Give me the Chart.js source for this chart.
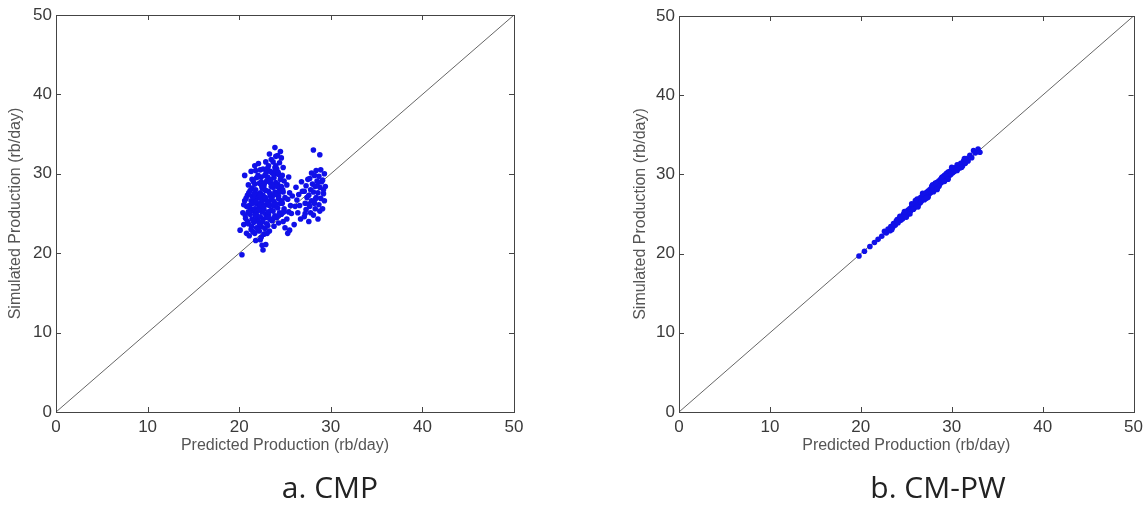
<!DOCTYPE html>
<html lang="en">
<head>
  <meta charset="UTF-8" />
  <title>CMP vs CM-PW</title>
  <script src="https://cdn.jsdelivr.net/npm/chart.js"></script>
  <style>
    body {
      margin: 0;
      background: #fff;
      width: 1148px;
      height: 508px;
      position: relative;
      overflow: hidden;
    }
    canvas {
      position: absolute;
      top: 0;
    }
    #chartA { left: 0; }
    #chartB { left: 625px; }
    .caption {
      position: absolute;
      top: 469px;
      font-family: 'Open Sans', sans-serif;
      font-size: 30px;
      line-height: 36px;
      color: #222;
      transform: translateX(-50%);
      white-space: nowrap;
    }
  </style>
</head>
<body>
  <canvas id="chartA" width="620" height="470"></canvas>
  <canvas id="chartB" width="523" height="470"></canvas>
  <div class="caption" style="left:330px">a. CMP</div>
  <div class="caption" style="left:938px">b. CM-PW</div>

<script>
    // axis ticks
    const tickValues = [0, 10, 20, 30, 40, 50];
    const diagonal = [0, 50];

    // a. CMP  (predicted vs simulated, rb/day)
    const cmpPredicted = [
      20.3, 20.1, 20.5, 20.7, 20.4, 20.8, 20.6, 20.9, 20.6, 20.8, 20.5, 20.9,
      21.1, 21.3, 21.0, 21.4, 21.2, 21.5, 21.1, 21.3, 21.4, 21.2, 21.0, 21.4, 21.3, 21.5, 21.2, 21.0, 21.4,
      21.8, 21.7, 21.9, 21.6, 22.0, 21.8, 21.7, 21.9, 21.6, 22.0, 21.8, 21.7, 21.9, 21.8, 22.0, 21.6, 21.9, 21.7,
      22.3, 22.5, 22.4, 22.2, 22.4, 22.1, 22.3, 22.5, 22.2, 22.4, 22.1, 22.3, 22.5, 22.2, 22.4, 22.3, 22.1, 22.5, 22.2, 22.4,
      22.6, 22.9, 22.7, 22.8, 23.0, 22.6, 22.9, 22.7, 23.0, 22.8, 22.6, 22.9, 22.7, 23.0, 22.8, 22.6, 22.9, 22.7, 22.8, 23.0,
      23.3, 23.1, 23.4, 23.2, 23.5, 23.3, 23.1, 23.4, 23.2, 23.5, 23.3, 23.1, 23.4, 23.2, 23.5, 23.3, 23.2, 23.4, 23.1,
      23.8, 23.6, 23.9, 23.7, 24.0, 23.8, 23.6, 23.9, 23.7, 24.0, 23.8, 23.6, 23.9, 23.7, 24.0, 23.9, 23.7, 23.8, 24.0,
      24.3, 24.1, 24.4, 24.2, 24.5, 24.3, 24.1, 24.4, 24.2, 24.5, 24.3, 24.1, 24.4, 24.2, 24.5, 24.3,
      24.8, 24.6, 24.9, 24.7, 25.0, 24.8, 24.6, 24.9, 24.7, 25.0, 24.8, 24.6,
      25.3, 25.5, 25.2, 25.4, 25.6, 25.3, 25.5, 25.2, 25.7, 25.8, 25.4,
      26.1, 26.3, 26.5, 26.2, 26.7, 26.6, 26.9, 26.4, 26.8, 26.0,
      27.1, 27.3, 27.2, 27.4, 27.1, 27.3, 27.5, 27.2,
      27.6, 27.8, 27.7, 27.9, 27.6, 27.8, 28.0, 27.7, 27.9, 27.6,
      28.1, 28.3, 28.2, 28.4, 28.1, 28.3, 28.5, 28.2, 28.4, 28.1, 28.3,
      28.6, 28.8, 28.7, 28.9, 28.6, 28.8, 29.0, 28.7, 28.9, 28.8, 28.6,
      29.1, 29.3, 29.2, 29.4, 29.1, 29.3, 29.2,
      21.35, 21.55, 21.75, 21.45, 21.65, 21.85, 21.55, 22.05, 22.15, 22.35,
      22.25, 22.45, 22.05, 22.55, 22.65, 22.85, 22.75, 22.95, 23.05, 23.15,
      23.25, 23.35, 23.45, 23.55, 23.65, 23.75, 23.85, 23.95, 24.05, 24.15,
      24.25, 24.35, 24.45, 24.55, 24.65, 24.75, 24.85, 20.65, 20.75, 21.05
    ];
    const cmpSimulated = [
      19.8, 22.9, 23.6, 24.4, 25.1, 25.9, 26.6, 27.3, 29.8, 22.5, 26.1, 24.0,
      22.2, 23.0, 23.7, 24.3, 24.9, 25.4, 26.0, 26.6, 27.2, 27.9, 28.6, 29.3, 30.3, 22.7, 25.7, 25.2, 28.2,
      21.6, 22.5, 23.2, 23.9, 24.4, 25.0, 25.6, 26.2, 26.8, 27.4, 28.0, 28.7, 29.5, 30.4, 25.3, 27.1, 24.7, 31.0,
      21.7, 21.0, 22.0, 22.8, 23.4, 24.0, 24.6, 25.2, 25.8, 26.4, 27.0, 27.6, 28.2, 28.8, 29.6, 30.5, 31.3, 26.9, 23.7, 29.0,
      20.4, 21.1, 22.4, 23.1, 23.7, 24.3, 24.9, 25.5, 26.1, 26.7, 27.3, 27.9, 28.5, 29.1, 29.8, 30.6, 31.5, 26.0, 28.0, 24.5,
      22.8, 23.5, 24.2, 24.8, 25.4, 26.0, 26.6, 27.2, 27.8, 28.4, 29.0, 29.6, 30.3, 31.0, 31.8, 32.5, 25.2, 28.9, 30.7,
      23.4, 24.1, 24.7, 25.3, 25.9, 26.5, 27.1, 27.7, 28.3, 28.9, 29.5, 30.1, 30.8, 31.5, 32.2, 33.3, 26.0, 29.9, 31.0,
      23.8, 24.5, 25.1, 25.7, 26.3, 26.9, 27.5, 28.1, 28.7, 29.3, 29.9, 30.6, 31.4, 32.3, 32.8, 27.2,
      24.0, 24.9, 25.6, 26.3, 27.0, 27.7, 28.4, 29.1, 29.8, 23.2, 30.8, 32.0,
      22.5, 22.9, 24.3, 25.2, 26.0, 26.8, 27.6, 28.6, 25.0, 27.2, 29.6,
      25.9, 26.7, 27.4, 28.3, 24.3, 26.0, 27.8, 25.1, 29.0, 23.6,
      24.6, 25.5, 26.3, 27.0, 27.8, 28.5, 29.3, 25.0,
      24.0, 25.1, 25.9, 26.6, 27.3, 28.0, 28.7, 29.4, 30.1, 26.2,
      24.8, 25.6, 26.3, 27.0, 27.7, 28.4, 29.1, 29.8, 30.4, 33.0, 26.8,
      24.3, 25.3, 26.1, 26.9, 27.6, 28.3, 29.0, 29.7, 30.5, 32.4, 28.9,
      25.6, 26.6, 27.5, 28.4, 29.2, 30.0, 28.0,
      23.4, 24.1, 24.8, 26.3, 27.5, 26.5, 29.0, 23.0, 25.5, 26.1,
      27.3, 28.5, 29.8, 24.0, 25.8, 27.0, 28.8, 30.2, 22.5, 24.5,
      26.3, 27.5, 29.3, 26.8, 28.6, 24.4, 27.4, 30.4, 26.2, 28.4,
      30.2, 24.8, 27.8, 29.6, 26.6, 28.0, 25.2, 24.8, 26.9, 27.6
    ];

    // b. CM-PW
    const pwPredicted = [
      19.8, 20.4, 21.0, 21.5, 21.9, 22.3, 22.6, 22.8, 23.0, 23.2, 23.3, 23.5, 23.6, 23.8, 23.9,
      24.1, 24.2, 24.4, 24.5, 24.6, 24.7, 24.9, 25.0, 25.1, 25.2, 25.3, 25.4, 25.5, 25.6, 25.7,
      25.8, 25.9, 26.0, 26.1, 26.2, 26.3, 26.4, 26.5, 26.6, 26.7, 26.8, 26.9, 27.0, 27.1, 27.2,
      27.3, 27.4, 27.5, 27.6, 27.7, 27.8, 27.9, 28.0, 28.1, 28.2, 28.3, 28.4, 28.5, 28.6, 28.7,
      28.8, 28.9, 29.0, 29.1, 29.2, 29.3, 29.4, 29.5, 29.6, 29.7, 29.8, 29.9, 30.0, 30.1, 30.2,
      30.3, 30.5, 30.6, 30.7, 30.9, 31.0, 31.2, 31.3, 31.5, 31.6, 31.8, 32.0, 32.2, 32.4, 32.6,
      32.9, 33.1, 24.0, 25.4, 26.2, 27.0, 27.8, 28.6, 29.4, 30.2, 25.8, 26.6, 28.0, 29.0, 30.4,
      23.4, 24.3, 25.0, 25.6, 26.3, 26.8, 27.4, 27.9, 28.4, 28.9, 29.6, 30.0, 30.6, 31.1, 31.4,
      24.8, 26.0, 27.2, 28.2, 29.2
    ];
    const pwSimulated = [
      19.7, 20.3, 20.9, 21.4, 21.8, 22.2, 22.8, 22.6, 23.1, 22.9, 23.4, 23.3, 23.8, 23.6, 24.1,
      23.9, 24.4, 24.2, 24.7, 24.4, 25.0, 24.7, 25.3, 24.9, 25.5, 25.2, 25.7, 25.4, 26.0, 25.6,
      26.2, 25.8, 26.4, 26.0, 26.6, 26.2, 26.9, 26.4, 27.1, 26.7, 27.3, 26.9, 27.5, 27.1, 27.7,
      27.3, 27.9, 27.5, 28.1, 27.7, 28.3, 27.9, 28.6, 28.1, 28.8, 28.3, 29.0, 28.6, 29.2, 28.8,
      29.4, 29.0, 29.7, 29.2, 29.9, 29.4, 30.1, 29.6, 30.3, 29.8, 30.4, 30.0, 30.6, 30.2, 30.8,
      30.4, 30.9, 30.5, 31.1, 30.8, 31.4, 31.1, 31.7, 31.4, 32.0, 31.7, 32.4, 32.1, 33.0, 32.7,
      33.2, 32.8, 24.3, 25.0, 26.9, 26.8, 28.5, 28.5, 29.8, 30.3, 25.6, 26.5, 27.8, 29.3, 30.6,
      23.0, 24.7, 24.6, 26.3, 25.9, 27.6, 27.1, 28.7, 28.1, 29.6, 29.4, 30.9, 31.2, 30.9, 32.0,
      25.3, 26.7, 27.0, 28.9, 29.1
    ];

    const toPoints = (xs, ys) => xs.map((x, i) => ({ x, y: ys[i] }));

    const axisFont = { family: "'Liberation Sans', Arial, sans-serif", size: 17 };
    const titleFont = { family: "'Liberation Sans', Arial, sans-serif", size: 16 };

    // MATLAB style box with inward ticks
    const boxPlugin = {
      id: 'box',
      afterDraw(chart) {
        const { ctx, chartArea: a, scales: { x, y } } = chart;
        ctx.save();
        ctx.strokeStyle = '#444';
        ctx.lineWidth = 1;
        ctx.strokeRect(Math.round(a.left) + 0.5, Math.round(a.top) + 0.5,
          Math.round(a.right - a.left), Math.round(a.bottom - a.top));
        ctx.beginPath();
        tickValues.slice(1, -1).forEach(v => {
          const px = Math.round(x.getPixelForValue(v)) + 0.5;
          const py = Math.round(y.getPixelForValue(v)) + 0.5;
          ctx.moveTo(px, a.bottom); ctx.lineTo(px, a.bottom - 5);
          ctx.moveTo(px, a.top); ctx.lineTo(px, a.top + 5);
          ctx.moveTo(a.left, py); ctx.lineTo(a.left + 5, py);
          ctx.moveTo(a.right, py); ctx.lineTo(a.right - 5, py);
        });
        ctx.stroke();
        ctx.restore();
      }
    };

    const makeChart = (id, xs, ys, axisWidth, pad) => {
      return new Chart(document.getElementById(id), {
        type: 'scatter',
        data: {
          datasets: [{
            data: toPoints(xs, ys),
            backgroundColor: '#1010e8',
            borderWidth: 0,
            pointStyle: 'circle',
            pointRadius: 2.8
          }, {
            type: 'line',
            data: toPoints(diagonal, diagonal),
            borderColor: '#666',
            borderWidth: 1,
            pointRadius: 0
          }]
        },
        options: {
          responsive: false,
          animation: false,
          layout: { padding: pad },
          plugins: {
            legend: { display: false },
            tooltip: { enabled: false }
          },
          scales: {
            x: {
              type: 'linear',
              min: 0, max: 50,
              grid: { display: false, drawTicks: false },
              border: { display: false },
              ticks: { stepSize: 10, autoSkip: false, color: '#3a3a3a', font: axisFont, padding: 5, maxRotation: 0 },
              title: { display: true, text: 'Predicted Production (rb/day)', color: '#555', font: titleFont, padding: { top: 0, bottom: 15 } },
              afterFit: s => { s.height = 58; }
            },
            y: {
              type: 'linear',
              min: 0, max: 50,
              grid: { display: false, drawTicks: false },
              border: { display: false },
              ticks: { stepSize: 10, autoSkip: false, color: '#3a3a3a', font: axisFont, padding: 4 },
              title: { display: true, text: 'Simulated Production (rb/day)', color: '#555', font: titleFont, padding: { top: 6, bottom: 0 } },
              afterFit: s => { s.width = axisWidth; }
            }
          }
        },
        plugins: [boxPlugin]
      });
    };

    makeChart('chartA', cmpPredicted, cmpSimulated, 56, { top: 15, right: 106, bottom: 0, left: 0 });
    makeChart('chartB', pwPredicted, pwSimulated, 54, { top: 16, right: 10, bottom: 0, left: 0 });
</script>
</body>
</html>
